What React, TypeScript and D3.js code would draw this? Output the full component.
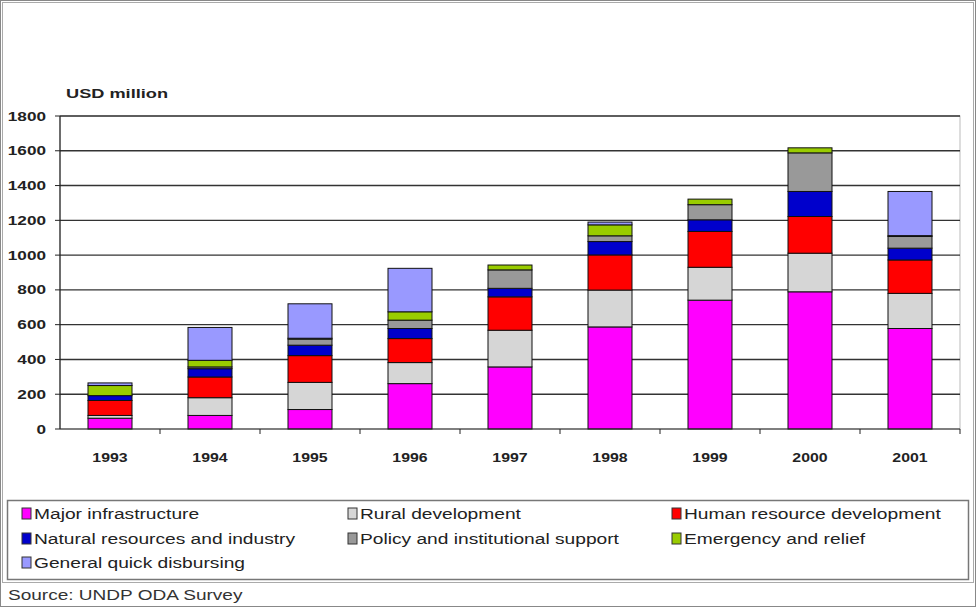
import React from "react";
import * as d3 from "d3";

const years = ["1993", "1994", "1995", "1996", "1997", "1998", "1999", "2000", "2001"];
const seriesNames = [
  "Major infrastructure",
  "Rural development",
  "Human resource development",
  "Natural resources and industry",
  "Policy and institutional support",
  "Emergency and relief",
  "General quick disbursing",
];
const majorInfrastructure = [62, 78, 112, 261, 357, 587, 741, 789, 578];
const ruralDevelopment = [16, 102, 156, 121, 211, 212, 189, 222, 202];
const humanResource = [86, 119, 154, 138, 192, 202, 206, 211, 192];
const naturalResources = [28, 48, 60, 58, 49, 77, 67, 144, 68];
const policySupport = [0, 10, 35, 48, 106, 33, 87, 222, 67];
const emergencyRelief = [58, 38, 5, 48, 28, 63, 32, 29, 5];
const generalQuick = [15, 189, 198, 250, 0, 16, 0, 0, 254];
const yTicks = [0, 200, 400, 600, 800, 1000, 1200, 1400, 1600, 1800];
const colors = ["#FF00FF", "#D6D6D6", "#FF0000", "#0000CC", "#999999", "#99CC00", "#9999FF"];

const seriesValues = [
  majorInfrastructure,
  ruralDevelopment,
  humanResource,
  naturalResources,
  policySupport,
  emergencyRelief,
  generalQuick,
];

function SText(props: any) {
  const { x, y, sx, children, ...rest } = props;
  return (
    <text transform={`translate(${x},${y}) scale(${sx},1)`} {...rest}>
      {children}
    </text>
  );
}

export default function App() {
  const W = 976;
  const H = 607;
  const left = 60;
  const right = 960;
  const top = 116;
  const bottom = 429;

  const x = d3.scaleBand().domain(years).range([left, right]).padding(0);
  const y = d3.scaleLinear().domain([0, 1800]).range([bottom, top]);
  const barW = x.bandwidth() * 0.44;

  const rows = years.map((yr, i) => {
    const r: any = { year: yr };
    seriesNames.forEach((s, k) => (r[s] = seriesValues[k][i]));
    return r;
  });
  const stacked = d3.stack().keys(seriesNames)(rows as any);

  const font = "'Liberation Sans', Arial, sans-serif";

  const legendCols = [22, 348, 672];
  const legendRows = [514, 539, 563];

  return (
    <svg
      width={W}
      height={H}
      style={{ position: "absolute", left: 0, top: 0, background: "#fff" }}
      fontFamily={font}
    >
      <rect x={0.5} y={0.5} width={W - 1} height={H - 1} fill="#fff" stroke="#888" />
      <rect x={2.5} y={2.5} width={W - 5} height={580} fill="none" stroke="#aaa" />
      <rect x={left} y={top} width={right - left} height={bottom - top} fill="none" stroke="#bbb" />
      {yTicks.slice(1).map((t) => (
        <line key={t} x1={left} x2={right} y1={y(t)} y2={y(t)} stroke="#333" strokeWidth={1.4} />
      ))}
      {stacked.map((layer, k) => (
        <g key={k}>
          {layer.map((d, i) => {
            const h = y(d[0]) - y(d[1]);
            if (h <= 0) return null;
            return (
              <rect
                key={i}
                x={(x(years[i]) as number) + (x.bandwidth() - barW) / 2}
                y={y(d[1])}
                width={barW}
                height={h}
                fill={colors[k]}
                stroke="#111"
                strokeWidth={1}
              />
            );
          })}
        </g>
      ))}
      <line x1={left} x2={left} y1={top} y2={bottom} stroke="#222" strokeWidth={1.2} />
      {yTicks.map((t) => (
        <g key={t}>
          <line x1={left - 5} x2={left} y1={y(t)} y2={y(t)} stroke="#222" />
          <SText
            x={left - 14}
            y={y(t)}
            sx={1.32}
            dy="0.35em"
            textAnchor="end"
            fontSize={13}
            fontWeight="bold"
            fill="#222"
          >
            {t}
          </SText>
        </g>
      ))}
      <line x1={left} x2={right} y1={bottom} y2={bottom} stroke="#222" strokeWidth={1.2} />
      {years.map((yr) => (
        <g key={yr}>
          <line
            x1={(x(yr) as number) + x.bandwidth()}
            x2={(x(yr) as number) + x.bandwidth()}
            y1={bottom}
            y2={bottom + 5}
            stroke="#222"
          />
          <SText
            x={(x(yr) as number) + x.bandwidth() / 2}
            y={462}
            sx={1.22}
            textAnchor="middle"
            fontSize={13}
            fontWeight="bold"
            fill="#222"
          >
            {yr}
          </SText>
        </g>
      ))}
      <SText x={66} y={98} sx={1.4} fontSize={13} fontWeight="bold" fill="#222">
        USD million
      </SText>
      <rect x={7.5} y={500.5} width={961} height={79} fill="#fff" stroke="#777" strokeWidth={1.5} />
      {seriesNames.map((s, k) => {
        const cx = legendCols[k % 3];
        const cy = legendRows[Math.floor(k / 3)];
        return (
          <g key={s}>
            <rect x={cx} y={cy - 6} width={9} height={11} fill={colors[k]} stroke="#333" strokeWidth={1} />
            <SText x={cx + 12} y={cy} sx={1.37} dy="0.35em" fontSize={14} fill="#222">
              {s}
            </SText>
          </g>
        );
      })}
      <SText x={8} y={600} sx={1.36} fontSize={14} fill="#333">
        Source: UNDP ODA Survey
      </SText>
    </svg>
  );
}
